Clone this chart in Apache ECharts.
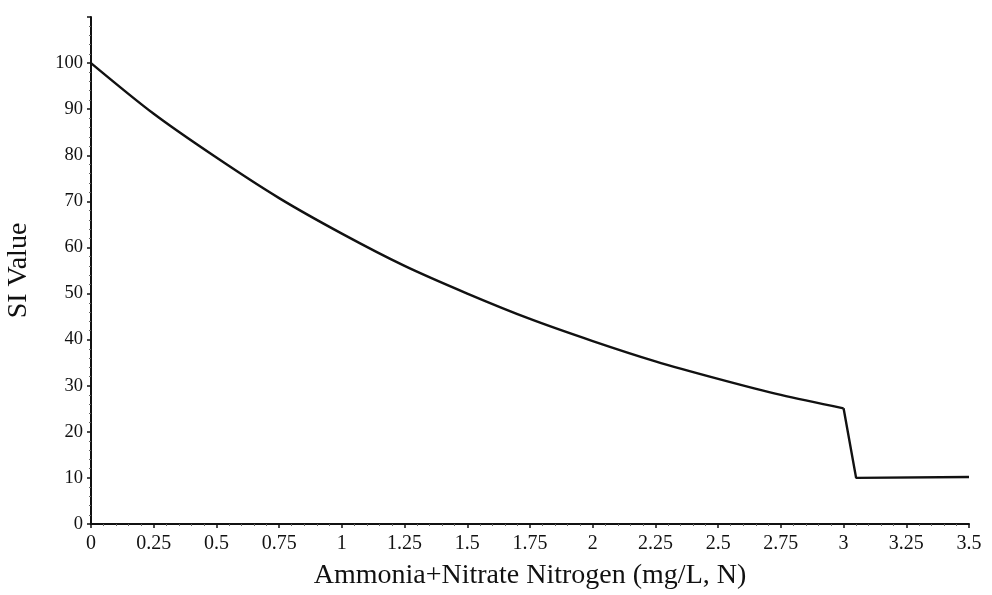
<!DOCTYPE html>
<html>
<head>
<meta charset="utf-8">
<script src="https://cdn.jsdelivr.net/npm/echarts@6/dist/echarts.min.js"></script>
<style>html,body{margin:0;padding:0;background:#fff}#c{width:992px;height:595px}</style>
</head>
<body>
<div id="c"></div>
<script>
// Data
var curveX = [0, 0.25, 0.5, 0.75, 1, 1.25, 1.5, 1.75, 2, 2.25, 2.5, 2.75, 3];
var curveY = [100, 89, 79.5, 70.7, 63, 56, 50, 44.5, 39.7, 35.3, 31.5, 28, 25.1];
var dropX = [3, 3.05, 3.5];
var dropY = [25.1, 10, 10.2];
var xTicks = [0, 0.25, 0.5, 0.75, 1, 1.25, 1.5, 1.75, 2, 2.25, 2.5, 2.75, 3, 3.25, 3.5];
var yTicks = [0, 10, 20, 30, 40, 50, 60, 70, 80, 90, 100];
var xTitle = 'Ammonia+Nitrate Nitrogen (mg/L, N)';
var yTitle = 'SI Value';

var font = '"Liberation Serif", "DejaVu Serif", serif';
var chart = echarts.init(document.getElementById('c'));
function pairs(xs, ys){ return xs.map(function(x,i){ return [x, ys[i]]; }); }
chart.setOption({
  animation: false,
  backgroundColor: '#fff',
  grid: { left: 91, right: 23, top: 17, bottom: 71, outerBoundsMode: 'none', containLabel: false },
  xAxis: {
    type: 'value', min: 0, max: 3.5, interval: 0.25,
    name: xTitle, nameLocation: 'middle', nameGap: 38,
    nameTextStyle: { fontFamily: font, fontSize: 28, color: '#111' },
    axisLine: { lineStyle: { color: '#111', width: 2 } },
    axisTick: { show: true, length: 4, lineStyle: { color: '#111', width: 1.5 } },
    minorTick: { show: true, splitNumber: 5, length: 2, lineStyle: { color: '#666' } },
    axisLabel: { fontFamily: font, fontSize: 20, color: '#111', margin: 10,
      formatter: function(v){ return xTicks.indexOf(+v.toFixed(2)) >= 0 ? String(+v.toFixed(2)) : ''; } },
    splitLine: { show: false }
  },
  yAxis: {
    type: 'value', min: 0, max: 110, interval: 10,
    name: yTitle, nameLocation: 'middle', nameGap: 58, nameRotate: 90,
    nameTextStyle: { fontFamily: font, fontSize: 28, color: '#111' },
    axisLine: { show: true, lineStyle: { color: '#111', width: 2 } },
    axisTick: { show: true, length: 4, lineStyle: { color: '#111', width: 1.5 } },
    minorTick: { show: true, splitNumber: 5, length: 2, lineStyle: { color: '#666' } },
    axisLabel: { fontFamily: font, fontSize: 18.5, color: '#111', margin: 8,
      formatter: function(v){ return yTicks.indexOf(v) >= 0 ? String(v) : ''; } },
    splitLine: { show: false }
  },
  series: [
    { type: 'line', data: pairs(curveX, curveY), smooth: 0.3, symbol: 'none',
      lineStyle: { color: '#111', width: 2.4 } },
    { type: 'line', data: pairs(dropX, dropY), smooth: false, symbol: 'none',
      lineStyle: { color: '#111', width: 2.4 } }
  ]
});
</script>
</body>
</html>
